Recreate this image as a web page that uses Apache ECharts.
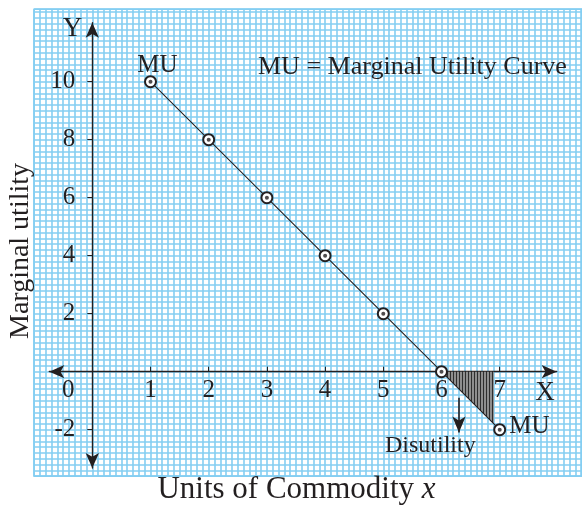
<!DOCTYPE html>
<html><head><meta charset="utf-8">
<script src="https://cdn.jsdelivr.net/npm/echarts@6/dist/echarts.min.js"></script>
<style>html,body{margin:0;padding:0;background:#fff}#c{width:582px;height:505px}</style>
</head><body><div id="c"></div>
<script>
// ---- data ----
const units = [1, 2, 3, 4, 5, 6, 7];
const marginalUtility = [10, 8, 6, 4, 2, 0, -2];
const xTickValues = [0, 1, 2, 3, 4, 5, 6, 7];
const yTickValues = [-2, 2, 4, 6, 8, 10];
const disutilityEdge = [[6, 0], [6.9, -1.8]];
const disutilityArrow = [[6.3, -0.9], [6.3, -2.1]];
const muLabelIndex = [0, 6];

// ---- layout constants ----
const W = 582, H = 505;
const ox = 92.3, oy = 371.7, ux = 58.2, uy = 29.0;
const font = '"Liberation Serif", "Times New Roman", serif';
const ink = '#231f20';
const paper = '#84cef2';

const xMin = (49.3 - ox) / ux, xMax = (556.7 - ox) / ux;
const yMax = (oy - 22.7) / uy, yMin = -(468 - oy) / uy;
const bxMin = -1, bxMax = (W - ox) / ux;
const byMin = -3.6, byMax = 12.5;

function px(x) { return ox + x * ux; }
function py(y) { return oy - y * uy; }

const hatch = document.createElement('canvas');
hatch.width = 3; hatch.height = 4;
const hc = hatch.getContext('2d');
hc.fillStyle = '#8e8e8e'; hc.fillRect(0, 0, 3, 4);
hc.fillStyle = '#2e2e2e'; hc.fillRect(0, 0, 1, 4);

const points = units.map((u, i) => {
  const item = {value: [u, marginalUtility[i]]};
  if (i === muLabelIndex[0]) item.label = {show: true, position: 'top', distance: -3, offset: [7, 0]};
  if (i === muLabelIndex[1]) item.label = {show: true, position: 'right', distance: 3, offset: [0, -3]};
  return item;
});

const chart = echarts.init(document.getElementById('c'), null, {renderer: 'canvas'});
chart.setOption({
  animation: false,
  backgroundColor: '#fff',
  grid: [
    {left: px(xMin), right: W - px(xMax), top: py(yMax), bottom: H - py(yMin)},
    {left: px(bxMin), right: W - px(bxMax), top: py(byMax), bottom: H - py(byMin),
     show: true, backgroundColor: '#ffffff', borderWidth: 1.6, borderColor: paper, z: 0}
  ],
  xAxis: [
    {type: 'value', gridIndex: 0, min: xMin, max: xMax, position: 'bottom', offset: -(py(yMin) - oy),
     axisLine: {onZero: false, lineStyle: {color: ink, width: 1.4}, symbol: ['arrow', 'arrow'], symbolSize: [10, 15]},
     axisTick: {show: true, inside: true, length: 5, customValues: xTickValues.filter(v => v !== 0), lineStyle: {color: ink, width: 1}},
     axisLabel: {show: true, customValues: xTickValues, margin: 6, color: ink, fontFamily: font, fontSize: 25,
       formatter: v => v === 0 ? '{o|0}' : String(v),
       rich: {o: {padding: [0, 48, 0, 0], fontFamily: font, fontSize: 25, color: ink}}},
     splitLine: {show: false},
     name: 'X', nameLocation: 'end', nameGap: -2,
     nameTextStyle: {color: ink, fontFamily: font, fontSize: 27, align: 'right', verticalAlign: 'top', padding: [8, 0, 0, 0]}
    },
    {type: 'value', gridIndex: 1, min: bxMin, max: bxMax, interval: 0.1,
     axisLine: {show: false}, axisTick: {show: false}, axisLabel: {show: false},
     splitLine: {show: true, lineStyle: {color: paper, width: 1.6}}}
  ],
  yAxis: [
    {type: 'value', gridIndex: 0, min: yMin, max: yMax, position: 'left', offset: -(ox - px(xMin)),
     axisLine: {onZero: false, lineStyle: {color: ink, width: 1.4}, symbol: ['arrow', 'arrow'], symbolSize: [10, 15]},
     axisTick: {show: true, length: 5, customValues: yTickValues, lineStyle: {color: ink, width: 1}},
     axisLabel: {show: true, customValues: yTickValues, margin: 17, color: ink, fontFamily: font, fontSize: 25,
       padding: [7, 0, 0, 0]},
     splitLine: {show: false},
     name: 'Y', nameLocation: 'end', nameGap: -6,
     nameTextStyle: {color: ink, fontFamily: font, fontSize: 27, align: 'right', verticalAlign: 'middle', padding: [0, 10, 0, 0]}
    },
    {type: 'value', gridIndex: 1, min: byMin, max: byMax, interval: 0.2,
     axisLine: {show: false}, axisTick: {show: false}, axisLabel: {show: false},
     splitLine: {show: true, lineStyle: {color: paper, width: 1.6}}}
  ],
  series: [
    {type: 'line', xAxisIndex: 0, yAxisIndex: 0, data: disutilityEdge, showSymbol: false,
     lineStyle: {width: 0}, areaStyle: {color: {image: hatch, repeat: 'repeat'}, opacity: 1}, z: 3, silent: true},
    {type: 'line', xAxisIndex: 0, yAxisIndex: 0, z: 5,
     data: points,
     symbol: 'emptyCircle', symbolSize: 11, showSymbol: true,
     lineStyle: {color: ink, width: 1.1},
     itemStyle: {color: ink, borderColor: ink, borderWidth: 1.3},
     label: {show: false, fontFamily: font, fontSize: 25, color: ink, formatter: 'MU'},
     markLine: {silent: true, symbol: ['none', 'arrow'], symbolSize: [10, 16], label: {show: false},
       lineStyle: {color: ink, width: 1.6, type: 'solid'},
       data: [[{coord: disutilityArrow[0]}, {coord: disutilityArrow[1]}]]}
    },
    {type: 'scatter', xAxisIndex: 0, yAxisIndex: 0, z: 6, symbolSize: 4,
     data: units.map((u, i) => [u, marginalUtility[i]]), itemStyle: {color: ink}}
  ],
  graphic: [
    {type: 'text', x: 258, y: 67, z: 10, style: {text: 'MU = Marginal Utility Curve', fill: ink, font: '26px ' + font, textVerticalAlign: 'middle'}},
    {type: 'text', x: 385, y: 446, z: 10, style: {text: 'Disutility', fill: ink, font: '24px ' + font, textVerticalAlign: 'middle'}},
    {type: 'text', x: 296.5, y: 490, z: 10, style: {text: 'Units of Commodity {i|x}', fill: ink, font: '31px ' + font, textAlign: 'center', textVerticalAlign: 'middle',
      rich: {i: {fontStyle: 'italic', fontFamily: font, fontSize: 31, fill: ink}}}},
    {type: 'text', x: 21, y: 251, rotation: Math.PI / 2, z: 10, style: {text: 'Marginal utility', fill: ink, font: '28px ' + font, textAlign: 'center', textVerticalAlign: 'middle'}}
  ]
});
</script></body></html>
